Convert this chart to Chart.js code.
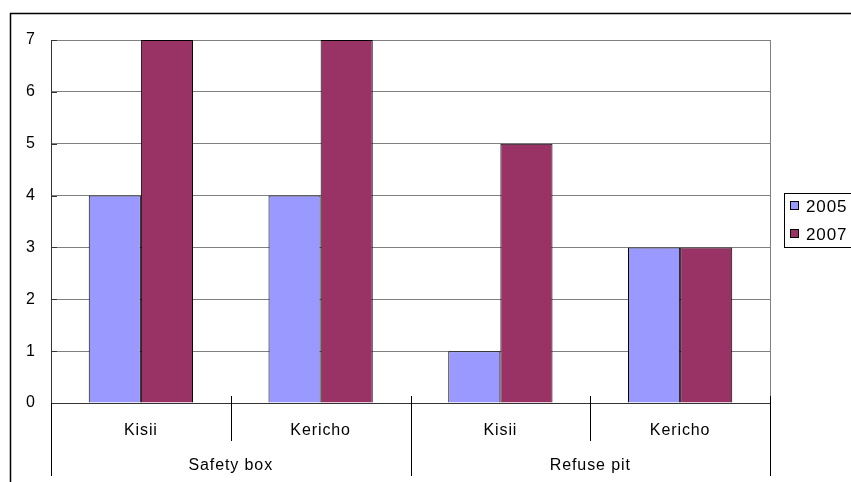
<!DOCTYPE html>
<html>
<head>
<meta charset="utf-8">
<script src="https://cdn.jsdelivr.net/npm/chart.js@4.4.1/dist/chart.umd.min.js"></script>
<style>
  html, body { margin: 0; padding: 0; background: #ffffff; }
  #wrap { width: 851px; height: 482px; }
</style>
</head>
<body>
<div id="wrap"><canvas id="chart" width="851" height="482"></canvas></div>
<script>
// Sites within each disposal method, and the methods themselves
const categories = ['Kisii', 'Kericho', 'Kisii', 'Kericho'];
const groups = ['Safety box', 'Refuse pit'];
const groupSize = 2;

// Series
const seriesNames = ['2005', '2007'];
const values2005 = [4, 4, 1, 3];
const values2007 = [7, 7, 5, 3];

// Value axis
const yMin = 0;
const yMax = 7;
const yStep = 1;

const FONT = '"Liberation Sans", Arial, sans-serif';
const colors = ['#9999FF', '#993366'];

// Frame, category separators, two-level labels and the boxed legend
const decorations = {
  id: 'decorations',
  afterDraw(chart) {
    const ctx = chart.ctx;
    const area = chart.chartArea;
    const xs = chart.scales.x;
    const ys = chart.scales.y;
    ctx.save();

    // outer chart frame
    ctx.strokeStyle = '#000000';
    ctx.lineWidth = 1.5;
    ctx.beginPath();
    ctx.moveTo(10.5, 490);
    ctx.lineTo(10.5, 13.5);
    ctx.lineTo(860, 13.5);
    ctx.stroke();

    // plot area right edge
    ctx.strokeStyle = '#808080';
    ctx.lineWidth = 1;
    ctx.beginPath();
    ctx.moveTo(Math.round(area.right) + 0.5, area.top);
    ctx.lineTo(Math.round(area.right) + 0.5, area.bottom);
    ctx.stroke();

    // small tick marks on the value axis
    ctx.strokeStyle = '#333333';
    for (let v = yMin; v <= yMax; v += yStep) {
      const py = Math.round(ys.getPixelForValue(v)) + 0.5;
      ctx.beginPath();
      ctx.moveTo(area.left, py);
      ctx.lineTo(area.left + 6, py);
      ctx.stroke();
    }

    // category boundaries
    const n = categories.length;
    const bounds = [];
    for (let i = 0; i <= n; i++) {
      if (i === 0) bounds.push(area.left);
      else if (i === n) bounds.push(area.right);
      else bounds.push((xs.getPixelForValue(i - 1) + xs.getPixelForValue(i)) / 2);
    }
    ctx.strokeStyle = '#000000';
    ctx.lineWidth = 1;
    const axisY = area.bottom;
    for (let i = 0; i <= n; i++) {
      const isGroup = i % groupSize === 0;
      const px = Math.round(bounds[i]) + 0.5;
      ctx.beginPath();
      ctx.moveTo(px, i === 0 ? axisY : axisY - 7);
      ctx.lineTo(px, isGroup ? axisY + 73 : axisY + 38);
      ctx.stroke();
    }

    // labels
    ctx.fillStyle = '#000000';
    ctx.font = '16px ' + FONT;
    ctx.letterSpacing = '0.9px';
    ctx.textAlign = 'center';
    ctx.textBaseline = 'middle';
    categories.forEach((c, i) => {
      ctx.fillText(c, xs.getPixelForValue(i), axisY + 28);
    });
    groups.forEach((g, j) => {
      const cx = (bounds[j * groupSize] + bounds[(j + 1) * groupSize]) / 2;
      ctx.fillText(g, cx, axisY + 63);
    });

    // legend
    ctx.strokeStyle = '#000000';
    ctx.lineWidth = 1;
    ctx.strokeRect(784.5, 193.5, 90, 54);
    ctx.textAlign = 'left';
    ctx.font = '17px ' + FONT;
    chart.data.datasets.forEach((ds, i) => {
      const ly = 206 + i * 28;
      ctx.fillStyle = ds.backgroundColor;
      ctx.fillRect(790.5, ly - 4.5, 8, 8);
      ctx.strokeStyle = '#000000';
      ctx.strokeRect(790.5, ly - 4.5, 8, 8);
      ctx.fillStyle = '#000000';
      ctx.fillText(ds.label, 806, ly + 1);
    });

    ctx.restore();
  }
};

new Chart(document.getElementById('chart'), {
  type: 'bar',
  data: {
    labels: categories,
    datasets: [
      { label: seriesNames[0], data: values2005, backgroundColor: colors[0], borderColor: '#000000', borderWidth: 1 },
      { label: seriesNames[1], data: values2007, backgroundColor: colors[1], borderColor: '#000000', borderWidth: 1 }
    ]
  },
  options: {
    responsive: false,
    devicePixelRatio: 1,
    animation: false,
    layout: { padding: { left: 10, top: 40, right: 81, bottom: 0 } },
    datasets: { bar: { categoryPercentage: 0.58, barPercentage: 1 } },
    plugins: { legend: { display: false }, tooltip: { enabled: false } },
    scales: {
      x: {
        type: 'category',
        ticks: { display: false },
        grid: { display: false },
        border: { display: true, color: '#333333', width: 1 },
        afterFit(scale) { scale.height = 79; }
      },
      y: {
        min: yMin,
        max: yMax,
        ticks: { stepSize: yStep, color: '#000000', font: { family: FONT, size: 16 }, padding: 16 },
        grid: { color: '#808080', drawTicks: false, lineWidth: 1 },
        border: { display: true, color: '#333333', width: 1 },
        afterFit(scale) { scale.width = 41; }
      }
    }
  },
  plugins: [decorations]
});
</script>
</body>
</html>
